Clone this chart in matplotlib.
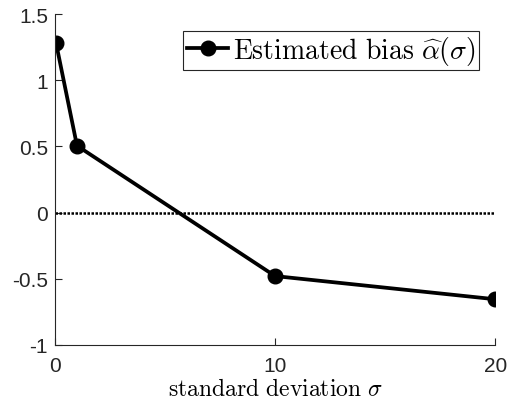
import matplotlib
matplotlib.use("Agg")
import matplotlib.pyplot as plt

# data
sigma = [0.05, 1, 10, 20]
bias = [1.28, 0.505, -0.48, -0.655]
zero_x = [0, 20]
zero_y = [0, 0]

plt.rcParams['mathtext.fontset'] = 'cm'
plt.rcParams['font.family'] = ['Liberation Sans', 'DejaVu Sans']

fig = plt.figure(figsize=(5.09, 4.06), dpi=100)
ax = fig.add_axes([0.108, 0.148, 0.865, 0.815])

ax.plot(zero_x, zero_y, color='black', linestyle=(0, (1, 0.6)), linewidth=1.8)
ax.plot(sigma, bias, color='black', linewidth=2.7, marker='o', markersize=10.5,
        label=r'$\mathrm{Estimated\ bias}\ \widehat{\alpha}(\sigma)$')

ax.set_xlim(0, 20)
ax.set_ylim(-1, 1.5)
ax.set_xticks([0, 10, 20])
ax.set_yticks([-1, -0.5, 0, 0.5, 1, 1.5])
ax.set_yticklabels(['-1', '-0.5', '0', '0.5', '1', '1.5'])
ax.tick_params(direction='in', length=5, width=0.8, labelsize=15,
               colors='#262626', pad=5)
ax.tick_params(axis='x', pad=8)
for s in ['top', 'right']:
    ax.spines[s].set_visible(False)
for s in ['left', 'bottom']:
    ax.spines[s].set_color('#262626')
    ax.spines[s].set_linewidth(0.8)

ax.set_xlabel(r'$\mathrm{standard\ deviation}\ \sigma$', fontsize=17, labelpad=2)

leg = ax.legend(loc='upper right', fontsize=20, fancybox=False, framealpha=1,
                edgecolor='#262626', handlelength=1.5, handletextpad=0.15,
                borderpad=0.12, borderaxespad=0.6)
leg.get_frame().set_linewidth(0.8)

fig.savefig('out.png', dpi=100)
